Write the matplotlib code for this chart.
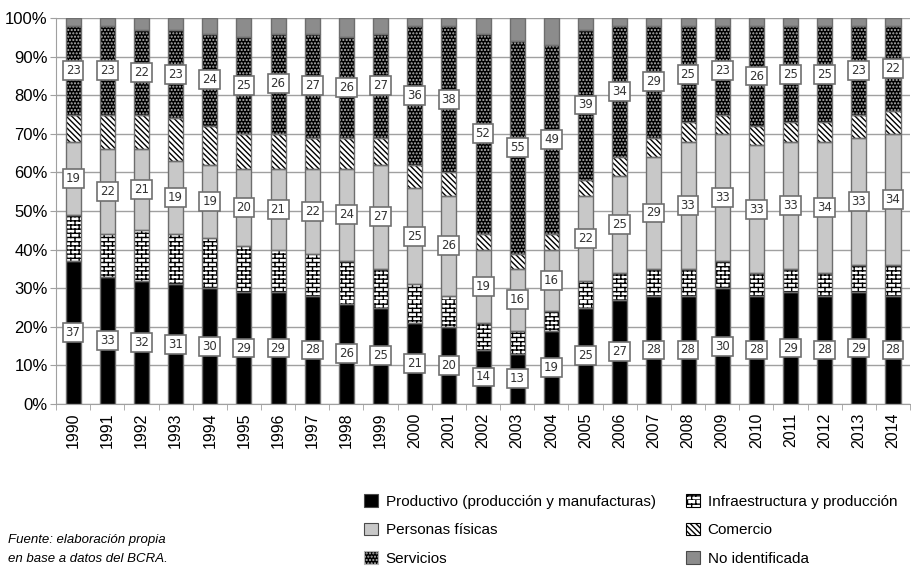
import warnings
import numpy as np
import matplotlib
matplotlib.use("Agg")
import matplotlib.pyplot as plt
import matplotlib.hatch as mhatch
from matplotlib.path import Path
from matplotlib.patches import Patch

warnings.filterwarnings("ignore")

years = [str(y) for y in range(1990, 2015)]

# participacion (%) de cada destino del credito, por anio
productivo = [37, 33, 32, 31, 30, 29, 29, 28, 26, 25, 21, 20, 14, 13, 19, 25, 27, 28, 28, 30, 28, 29, 28, 29, 28]
infraestructura = [12, 11, 13, 13, 13, 12, 11, 11, 11, 10, 10, 8, 7, 6, 5, 7, 7, 7, 7, 7, 6, 6, 6, 7, 8]
personas = [19, 22, 21, 19, 19, 20, 21, 22, 24, 27, 25, 26, 19, 16, 16, 22, 25, 29, 33, 33, 33, 33, 34, 33, 34]
comercio = [7, 9, 9, 11, 10, 9, 9, 8, 8, 7, 6, 6, 4, 4, 4, 4, 5, 5, 5, 5, 5, 5, 5, 6, 6]
servicios = [23, 23, 22, 23, 24, 25, 26, 27, 26, 27, 36, 38, 52, 55, 49, 39, 34, 29, 25, 23, 26, 25, 25, 23, 22]
no_ident = [2, 2, 3, 3, 4, 5, 4, 4, 5, 4, 2, 2, 4, 6, 7, 3, 2, 2, 2, 2, 2, 2, 2, 2, 2]


class BrickHatch(mhatch.HatchPatternBase):
    """Ladrillos: 'b' en el patron de hatch."""

    def __init__(self, hatch, density):
        n = hatch.count("b")
        self.rows = 4 * density * n
        self.cols = 12
        self.num_vertices = self.rows * 2 + self.rows * self.cols * 2

    def set_vertices_and_codes(self, vertices, codes):
        h = 1.0 / self.rows
        k = 0
        for i in range(self.rows):
            y = i * h
            vertices[k] = (0.0, y)
            vertices[k + 1] = (1.0, y)
            codes[k] = Path.MOVETO
            codes[k + 1] = Path.LINETO
            k += 2
            off = 0.5 * (i % 2)
            for j in range(self.cols):
                xv = (j + off) / self.cols
                vertices[k] = (xv, y)
                vertices[k + 1] = (xv, y + h)
                codes[k] = Path.MOVETO
                codes[k + 1] = Path.LINETO
                k += 2


mhatch._hatch_types.append(BrickHatch)

series = [
    ("Productivo (producción y manufacturas)", productivo, "black", None, "black"),
    ("Infraestructura y producción", infraestructura, "white", "b", "black"),
    ("Personas físicas", personas, "#c8c8c8", None, "#c8c8c8"),
    ("Comercio", comercio, "white", "\\\\\\\\\\\\", "black"),
    ("Servicios", servicios, "black", ".....", "#b4b4b4"),
    ("No identificada", no_ident, "#8c8c8c", None, "#8c8c8c"),
]
labelled = {"Productivo (producción y manufacturas)", "Personas físicas", "Servicios"}

sans = ["Liberation Sans", "DejaVu Sans"]
plt.rcParams["hatch.linewidth"] = 1.0

fig = plt.figure(figsize=(9.11, 5.67), dpi=100)
ax = fig.add_axes([0.0615, 0.2875, 0.9375, 0.6805])

x = np.arange(len(years))
width = 0.44
bottom = np.zeros(len(years))
for name, vals, fc, hatch, hc in series:
    vals = np.array(vals, dtype=float)
    ax.bar(x, vals, width, bottom=bottom, color=fc, hatch=hatch,
           edgecolor=hc, linewidth=0, zorder=2)
    ax.bar(x, vals, width, bottom=bottom, fill=False,
           edgecolor="#6e6e6e", linewidth=1.0, zorder=3)
    if name in labelled:
        for xi, b, v in zip(x, bottom, vals):
            ax.text(xi, b + v / 2, f"{int(v)}", ha="center", va="center",
                    fontsize=8.5, color="#333333", family="DejaVu Sans",
                    zorder=5,
                    bbox=dict(boxstyle="square,pad=0.25", fc="white",
                              ec="#707070", lw=1.2))
    bottom += vals

ax.set_xlim(-0.5, len(years) - 0.5)
ax.set_ylim(0, 100)
ax.set_yticks(np.arange(0, 101, 10))
ax.set_yticklabels([f"{v}%" for v in range(0, 101, 10)], family=sans, fontsize=12)
ax.yaxis.grid(True, color="#a0a0a0", linewidth=1.0, zorder=0)
ax.set_axisbelow(True)

ax.set_xticks(x)
ax.set_xticklabels(years, rotation=90, fontsize=11.5, family=sans)
ax.tick_params(axis="x", length=0, pad=6)
ax.set_xticks(np.arange(-0.5, len(years), 1), minor=True)
ax.tick_params(axis="x", which="minor", length=4, color="#a0a0a0")
ax.tick_params(axis="y", length=4, color="#a0a0a0", pad=2)

for side in ["top", "right"]:
    ax.spines[side].set_visible(False)
for side in ["left", "bottom"]:
    ax.spines[side].set_color("#a0a0a0")

handles = [Patch(facecolor=fc, hatch=h, edgecolor=("#4a4a4a" if h is None else hc), linewidth=0.8)
           for _, _, fc, h, hc in series]
names = [s[0] for s in series]
order = [0, 2, 4, 1, 3, 5]
fig.legend([handles[i] for i in order], [names[i] for i in order], ncol=2,
           loc="lower right", bbox_to_anchor=(1.0, -0.022), frameon=False,
           prop={"family": sans, "size": 11}, handlelength=0.9, handleheight=0.9,
           handletextpad=0.5, columnspacing=2.0, labelspacing=0.9)

fig.text(0.009, 0.004, "Fuente: elaboración propia\nen base a datos del BCRA.",
         fontsize=9.5, style="italic", family=sans, linespacing=1.8,
         va="bottom", ha="left")

fig.savefig("out.png", dpi=100)
